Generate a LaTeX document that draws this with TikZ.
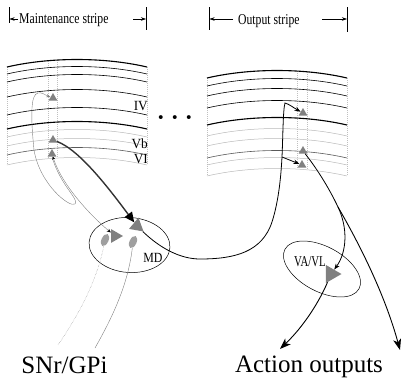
\documentclass[tikz,border=0pt]{standalone}
\usepackage{fontspec}
\setmainfont{Liberation Serif}
\usetikzlibrary{shapes.geometric,arrows.meta}

\tikzset{
  cell/.style={regular polygon, regular polygon sides=3, fill=gray, inner sep=0pt, minimum size=10pt},
  gate/.style={ellipse, fill=gray!75, inner sep=0pt, minimum width=7pt, minimum height=13pt},
  nucleus/.style={ellipse, draw, line width=0.5pt, inner sep=0pt},
  hdr/.style={font=\fontsize{15}{15}\selectfont, xscale=0.78, inner sep=0pt, anchor=base west},
  lay/.style={font=\fontsize{14}{14}\selectfont, xscale=0.95, inner sep=0pt, anchor=base east},
  big/.style={font=\fontsize{25}{25}\selectfont, inner sep=0pt, anchor=base},
  tick/.style={-{Stealth[length=5pt,width=3.5pt]}, line width=0.5pt},
  axon/.style={line width=0.8pt, -{Stealth[length=6pt,width=4.5pt]}},
  bigaxon/.style={line width=0.9pt, -{Stealth[length=11pt,width=8pt,inset=3pt]}},
  fibre/.style={gray, line width=0.4pt},
  boldlayer/.style={line width=1.1pt},
  stdlayer/.style={line width=0.6pt},
  midlayer/.style={gray!70!black, line width=0.6pt},
  palelayer/.style={gray!55, line width=0.5pt},
  colline/.style={gray!50, line width=0.4pt, dash pattern=on 1pt off 1pt}
}

\begin{document}
\begin{tikzpicture}[x=1pt,y=-1pt]
  \useasboundingbox (0,0) rectangle (402,383);

  % stripe headers
  \node[hdr] (mtxt) at (19,23.5) {Maintenance stripe};
  \node[hdr] (otxt) at (238,24) {Output stripe};
  \draw[line width=0.6pt] (9,7) -- (9,23);
  \draw[line width=0.6pt] (146,7) -- (146,30);
  \draw[line width=0.6pt] (209,7) -- (209,30);
  \draw[line width=0.6pt] (347,7) -- (347,32);
  \coordinate (mL) at (9.5,19);
  \coordinate (mLt) at (18,19);
  \coordinate (mR) at (146,19);
  \coordinate (mRt) at (133,19);
  \coordinate (oL) at (209.5,19);
  \coordinate (oLt) at (233,19);
  \coordinate (oR) at (347,19);
  \coordinate (oRt) at (322,19);
  \draw[tick] (mLt) -- (mL);
  \draw[tick] (mRt) -- (mR);
  \draw[tick] (oLt) -- (oL);
  \draw[tick] (oRt) -- (oR);

  % maintenance stripe layers
  \draw[colline] (7,67) -- (7,165);
  \draw[colline] (147,67) -- (147,165);
  \draw[colline] (48,61) -- (48,159);
  \draw[colline] (57,60) -- (57,158);
  \draw[boldlayer] (7,67) .. controls (50,57) and (104,57) .. (147,67);
  \draw[stdlayer] (7,74) .. controls (50,64) and (104,64) .. (147,74);
  \draw[stdlayer] (7,82) .. controls (50,72) and (104,72) .. (147,82);
  \draw[stdlayer] (7,97) .. controls (50,87) and (104,87) .. (147,97);
  \draw[stdlayer] (7,115) .. controls (50,105) and (104,105) .. (147,115);
  \draw[boldlayer] (7,129) .. controls (50,119) and (104,119) .. (147,129);
  \draw[palelayer] (7,137) .. controls (50,127) and (104,127) .. (147,137);
  \draw[palelayer] (7,146) .. controls (50,136) and (104,136) .. (147,146);
  \draw[midlayer] (7,155) .. controls (50,145) and (104,145) .. (147,155);
  \draw[palelayer] (7,165) .. controls (50,155) and (104,155) .. (147,165);
  \node[lay] (lIV) at (148,110) {IV};
  \node[lay] (lVb) at (148,148) {Vb};
  \node[lay] (lVI) at (148,163) {VI};

  % output stripe layers
  \draw[colline] (207,78) -- (207,176);
  \draw[colline] (347,78) -- (347,176);
  \draw[colline] (297,71) -- (297,169);
  \draw[colline] (307,72) -- (307,170);
  \draw[boldlayer] (207,78) .. controls (250,68) and (304,68) .. (347,78);
  \draw[stdlayer] (207,86) .. controls (250,76) and (304,76) .. (347,86);
  \draw[stdlayer] (207,96) .. controls (250,86) and (304,86) .. (347,96);
  \draw[stdlayer] (207,108) .. controls (250,98) and (304,98) .. (347,108);
  \draw[boldlayer] (207,125) .. controls (250,115) and (304,115) .. (347,125);
  \draw[palelayer] (207,136) .. controls (250,126) and (304,126) .. (347,136);
  \draw[palelayer] (207,146) .. controls (250,136) and (304,136) .. (347,146);
  \draw[midlayer] (207,158) .. controls (250,148) and (304,148) .. (347,158);
  \draw[palelayer] (207,165) .. controls (250,155) and (304,155) .. (347,165);
  \draw[palelayer] (207,176) .. controls (250,166) and (304,166) .. (347,176);

  \node[font=\fontsize{24}{24}\selectfont\bfseries, anchor=base] (dots) at (175,125) {· · ·};

  % cortical cells
  \node[cell] (iv) at (53,98) {};
  \node[cell] (vb) at (53,140) {};
  \node[cell] (vi) at (52,154) {};
  \node[cell] (oiv) at (303,113) {};
  \node[cell] (ovb) at (303,151) {};
  \node[cell] (ovi) at (302,165) {};

  % thalamus
  \node[nucleus, minimum width=81pt, minimum height=55pt, rotate=-4] (md) at (129.5,245) {};
  \node[font=\fontsize{14}{14}\selectfont, xscale=0.85] (mdlbl) at (153,258) {MD};
  \node[gate, rotate=-25] (g1) at (105,240) {};
  \node[gate, rotate=-25] (g2) at (133,242) {};
  \node[cell, minimum size=16pt, rotate=-90] (mdcell) at (115,236) {};
  \node[cell, minimum size=17pt, rotate=-10] (mdrelay) at (137,226) {};

  \node[nucleus, minimum width=84pt, minimum height=45pt, rotate=-28] (vavl) at (322,269) {};
  \node[font=\fontsize{15}{15}\selectfont, xscale=0.72] (valbl) at (310,262) {VA/VL};
  \node[cell, minimum size=21pt, rotate=-90] (vacell) at (331,274) {};

  % maintenance loop
  \draw[fibre, -{Stealth[length=4pt,width=3pt]}] (vi.south) .. controls (60,185) and (80,200) .. (75,204)
    .. controls (70,208) and (40,185) .. (34,150) .. controls (31,120) and (30,94) .. (38,93)
    .. controls (42,92) and (45,95) .. (iv);
  \draw[fibre, {Stealth[length=3pt,width=3pt,black]}-{Stealth[length=4pt,width=3.5pt,black]}] (vi) .. controls (62,185) and (90,215) .. (mdcell);
  \draw[gray!40!black, line width=1.4pt, -{Triangle[length=10pt,width=9pt,black]}] (vb) .. controls (80,150) and (110,190) .. (mdrelay);

  % basal ganglia inputs
  \coordinate (snrL) at (58,345);
  \coordinate (snrR) at (95,348);
  \draw[fibre, densely dotted] (g1) .. controls (96,285) and (75,320) .. (snrL);
  \draw[fibre] (g2) .. controls (128,285) and (112,318) .. (snrR);
  \node[big] (snr) at (64.5,373) {SNr/GPi};

  % output stripe connections
  \coordinate (fork) at (282,157);
  \draw[axon] (mdrelay) .. controls (160,248) and (180,259) .. (200,259)
    .. controls (235,259) and (262,252) .. (272,222) .. controls (279,200) and (281,175) .. (fork)
    .. controls (283,135) and (283,110) .. (285,103) .. controls (289,104) and (294,108) .. (oiv);
  \draw[axon] (fork) -- (ovi);

  \coordinate (split) at (338,207);
  \coordinate (outL) at (280,349);
  \coordinate (outR) at (400,350);
  \draw[line width=0.8pt] (ovb) .. controls (318,170) and (330,190) .. (split);
  \draw[axon] (split) .. controls (348,228) and (347,252) .. (vacell);
  \draw[bigaxon] (split) .. controls (360,245) and (385,295) .. (outR);
  \draw[bigaxon] (vacell) .. controls (320,300) and (305,325) .. (outL);
  \node[big] (act) at (309,372) {Action outputs};
\end{tikzpicture}
\end{document}
